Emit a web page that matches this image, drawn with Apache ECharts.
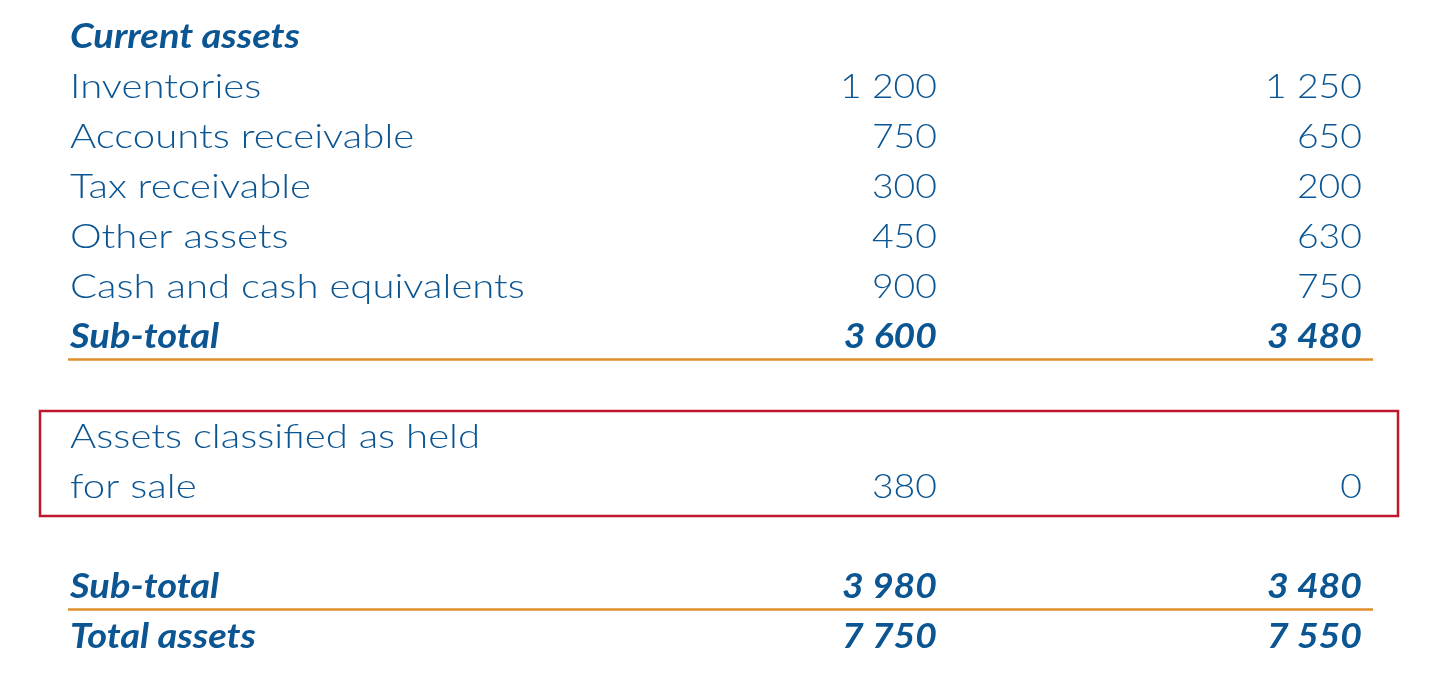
<!DOCTYPE html>
<html><head><meta charset="utf-8">
<script src="https://cdn.jsdelivr.net/npm/echarts@6/dist/echarts.min.js"></script>
<style>html,body{margin:0;background:#fff}#c{width:1440px;height:681px}</style>
</head><body><div id="c"></div>
<script>
const labels = ['Current assets','Inventories','Accounts receivable','Tax receivable','Other assets','Cash and cash equivalents','Sub-total','','Assets classified as held','for sale','','Sub-total','Total assets'];
const col1 = ['','1 200','750','300','450','900','3 600','','','380','','3 980','7 750'];
const col2 = ['','1 250','650','200','630','750','3 480','','','0','','3 480','7 550'];
const boldRows = [0,6,11,12];
const ruleAfterRows = [6,11];
const boxRows = [8,9];

const BLUE='#0b5592', ORANGE='#df8f2c', RED='#c0172f';
const chart = echarts.init(document.getElementById('c'));
function txt(s, x, y, font, align, sx){
  return {type:'text',x:x,y:y,scaleX:sx,style:{text:s,x:0,y:0,font:font,fill:BLUE,verticalAlign:'middle',textAlign:align}};
}
chart.setOption({
  animation:false,
  grid:{left:0,right:0,top:12,height:650},
  xAxis:{type:'value',min:0,max:1440,show:false},
  yAxis:{type:'category',inverse:true,show:false,data:labels.map((_, i)=>i)},
  series:[{
    type:'custom',
    data:labels.map((_, i)=>[i]),
    renderItem:(params, api)=>{
      const i = api.value(0);
      const y = api.coord([0,i])[1];
      const h = api.size([0,1])[1];
      const bold = boldRows.includes(i);
      const font = (bold?'italic bold ':'300 ')+'34px Lato, "Open Sans", sans-serif';
      const ch = [];
      const x0 = api.coord([70,0])[0], x1 = api.coord([937,0])[0], x2=api.coord([1362,0])[0];
      ch.push(txt(labels[i], x0, y, font, 'left', bold?1.12:1.18));
      ch.push(txt(col1[i], x1, y, font, 'right', 1.1));
      ch.push(txt(col2[i], x2, y, font, 'right', 1.1));
      if (ruleAfterRows.includes(i)) {
        const ly = y + h*0.45;
        ch.push({type:'line',shape:{x1:api.coord([68,0])[0],y1:ly,x2:api.coord([1373,0])[0],y2:ly},style:{stroke:ORANGE,lineWidth:2.5}});
      }
      if (i===boxRows[0]) {
        const top = y - h*0.52, bottom = y + h*1.58;
        ch.push({type:'rect',shape:{x:api.coord([40,0])[0],y:top,width:api.size([1358,0])[0],height:bottom-top},style:{fill:'none',stroke:RED,lineWidth:2.5}});
      }
      return {type:'group',children:ch};
    }
  }]
});
</script></body></html>
